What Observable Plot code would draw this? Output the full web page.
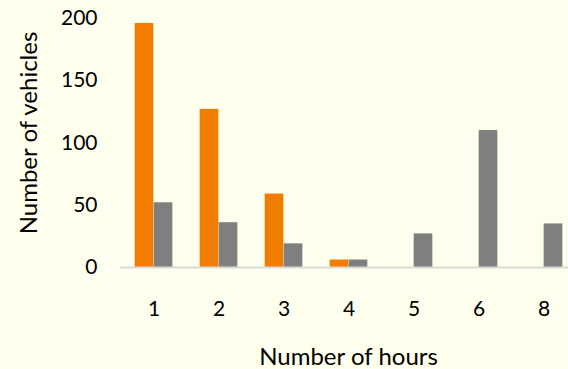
<!DOCTYPE html>
<html>
<head>
<meta charset="utf-8">
<script src="https://cdn.jsdelivr.net/npm/d3@7"></script>
<script src="https://cdn.jsdelivr.net/npm/@observablehq/plot@0.6"></script>
<style>
  html, body { margin: 0; padding: 0; background: #FFFFEE; }
  #chart svg { display: block; }
</style>
</head>
<body>
<div id="chart"></div>
<script>
// Hours parked (categories) and vehicle counts for the two series
const hours = ["1", "2", "3", "4", "5", "6", "8"];
const seriesOne = [196, 127, 59, 6, 0, 0, 0];
const seriesTwo = [52, 36, 19, 6, 27, 110, 35];
const yTicks = [0, 50, 100, 150, 200];
const xTitle = ["Number of hours"];
const yTitle = ["Number of vehicles"];

const rows = hours.map((h, i) => ({hour: h, one: seriesOne[i], two: seriesTwo[i]}));

const W = 568, H = 369;
const band = 65.33;       // width of each hour group
const barW = 19;          // width of a single bar
const inner = band / 2 - barW;
const font = "Lato, 'Open Sans', sans-serif";

const chart = Plot.plot({
  width: W,
  height: H,
  marginLeft: 120,
  marginRight: 0,
  marginTop: 18,
  marginBottom: 102,
  style: {background: "#FFFFEE", fontFamily: font, color: "#000"},
  x: {domain: hours, range: [120.3, 120.3 + band * hours.length], padding: 0},
  y: {domain: [0, 200], ticks: yTicks},
  marks: [
    Plot.barY(rows, {x: "hour", y: "one", fill: "#F07C00", insetLeft: inner, insetRight: band / 2}),
    Plot.barY(rows, {x: "hour", y: "two", fill: "#7F7F7F", insetLeft: band / 2, insetRight: inner}),
    Plot.ruleY([0], {stroke: "#D9D9D9", strokeWidth: 2}),
    Plot.axisY({ticks: yTicks, tickSize: 0, tickPadding: 23, fontSize: 21, label: null}),
    Plot.axisX({tickSize: 0, tickPadding: 34, fontSize: 21, label: null}),
    Plot.text(xTitle, {text: d => d, frameAnchor: "bottom", dx: 4, dy: 90, fontSize: 24, textAnchor: "middle", lineAnchor: "middle"}),
    Plot.text(yTitle, {text: d => d, frameAnchor: "left", dx: -91, dy: -10, rotate: -90, fontSize: 24, textAnchor: "middle", lineAnchor: "middle"})
  ]
});

document.getElementById("chart").appendChild(chart);
</script>
</body>
</html>
